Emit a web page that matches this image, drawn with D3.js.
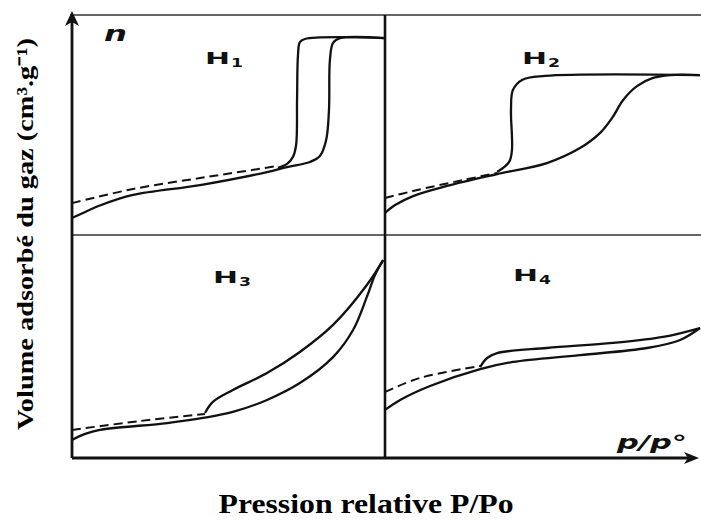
<!DOCTYPE html>
<html>
<head>
<meta charset="utf-8">
<script src="https://cdn.jsdelivr.net/npm/d3@7"></script>
<style>
  html, body { margin: 0; padding: 0; background: #fff; }
  svg { display: block; }
</style>
</head>
<body>
<svg id="chart" width="701" height="523"></svg>
<script>
// ---- Data: relative pressure P/P0 (x) and relative adsorbed amount n (y), per panel ----
const panelNames = ["H1", "H2", "H3", "H4"];

const h1Adsorption = [[0,0.077],[0.035,0.100],[0.089,0.134],[0.195,0.182],[0.409,0.227],[0.623,0.286],[0.687,0.309],[0.760,0.332],[0.792,0.359],[0.812,0.432],[0.821,0.568],[0.824,0.795],[0.834,0.873],[0.856,0.895],[1,0.895]];
const h1Desorption = [[1,0.895],[0.744,0.891],[0.728,0.877],[0.722,0.818],[0.719,0.614],[0.716,0.409],[0.706,0.355],[0.687,0.323],[0.658,0.305]];
const h1Dashed     = [[0,0.145],[0.195,0.209],[0.409,0.259],[0.514,0.282],[0.658,0.314]];

const h2Adsorption = [[0,0.100],[0.032,0.136],[0.089,0.177],[0.197,0.223],[0.356,0.277],[0.514,0.327],[0.619,0.395],[0.683,0.464],[0.721,0.532],[0.756,0.614],[0.800,0.677],[0.851,0.714],[0.905,0.727],[1,0.727]];
const h2Desorption = [[1,0.727],[0.508,0.723],[0.435,0.705],[0.406,0.659],[0.400,0.568],[0.403,0.386],[0.394,0.332],[0.356,0.286]];
const h2Dashed     = [[0,0.168],[0.089,0.200],[0.248,0.250],[0.356,0.282]];

const h3Adsorption = [[0,0.077],[0.042,0.104],[0.089,0.122],[0.304,0.153],[0.419,0.176],[0.514,0.203],[0.623,0.257],[0.728,0.333],[0.834,0.450],[0.898,0.572],[0.942,0.721],[0.968,0.820],[0.994,0.887]];
const h3Desorption = [[0.994,0.887],[0.942,0.775],[0.834,0.595],[0.728,0.473],[0.623,0.378],[0.514,0.302],[0.450,0.248],[0.425,0.198]];
const h3Dashed     = [[0,0.122],[0.217,0.162],[0.425,0.194]];

const h4Adsorption = [[0,0.212],[0.048,0.257],[0.143,0.320],[0.302,0.396],[0.406,0.428],[0.619,0.459],[0.832,0.491],[0.937,0.527],[1,0.581]];
const h4Desorption = [[1,0.581],[0.883,0.541],[0.724,0.514],[0.514,0.491],[0.356,0.468],[0.324,0.446],[0.302,0.405]];
const h4Dashed     = [[0,0.293],[0.111,0.356],[0.302,0.410]];

const panelSubscripts = ["1", "2", "3", "4"];
const yAxisLabel = "Volume adsorbé du gaz  (cm³.g⁻¹)";
const xAxisLabel = "Pression relative P/Po";

// ---- Layout ----
const svg = d3.select("#chart");
const axisX = 72, midX = 385, rightX = 700;
const topY = 15, midY = 235, botY = 457;

const panels = [
  { name: panelNames[0], sub: panelSubscripts[0], x0: axisX, x1: midX, y0: midY, y1: topY, ads: h1Adsorption, des: h1Desorption, dash: h1Dashed, lx: 205, ly: 64 },
  { name: panelNames[1], sub: panelSubscripts[1], x0: midX, x1: rightX, y0: midY, y1: topY, ads: h2Adsorption, des: h2Desorption, dash: h2Dashed, lx: 522, ly: 64 },
  { name: panelNames[2], sub: panelSubscripts[2], x0: axisX, x1: midX, y0: botY, y1: midY, ads: h3Adsorption, des: h3Desorption, dash: h3Dashed, lx: 213, ly: 283 },
  { name: panelNames[3], sub: panelSubscripts[3], x0: midX, x1: rightX, y0: botY, y1: midY, ads: h4Adsorption, des: h4Desorption, dash: h4Dashed, lx: 513, ly: 281 }
];

const ink = "#111";

// Frame lines
svg.append("line").attr("x1", axisX - 2).attr("x2", 701).attr("y1", topY).attr("y2", topY)
  .attr("stroke", "#333").attr("stroke-width", 1.6);
svg.append("line").attr("x1", axisX).attr("x2", 701).attr("y1", midY).attr("y2", midY)
  .attr("stroke", "#333").attr("stroke-width", 1.6);
svg.append("line").attr("x1", midX).attr("x2", midX).attr("y1", topY).attr("y2", botY + 1)
  .attr("stroke", ink).attr("stroke-width", 2.6);

// Y axis with arrow
svg.append("line").attr("x1", axisX).attr("x2", axisX).attr("y1", botY + 1).attr("y2", 20)
  .attr("stroke", ink).attr("stroke-width", 2.8);
svg.append("path").attr("d", `M${axisX},11 L${axisX - 7},26 L${axisX},22 L${axisX + 7},26 Z`).attr("fill", ink);

// X axis with arrow
svg.append("line").attr("x1", axisX).attr("x2", 690).attr("y1", botY + 1).attr("y2", botY + 1)
  .attr("stroke", ink).attr("stroke-width", 2.8);
svg.append("path").attr("d", `M699,${botY + 1} L684,${botY - 5} L688,${botY + 1} L684,${botY + 7} Z`).attr("fill", ink);

// Curves
panels.forEach(p => {
  const x = d3.scaleLinear().domain([0, 1]).range([p.x0, p.x1]);
  const y = d3.scaleLinear().domain([0, 1]).range([p.y0, p.y1]);
  const line = d3.line().x(d => x(d[0])).y(d => y(d[1])).curve(d3.curveCatmullRom.alpha(0.5));
  const g = svg.append("g");
  g.append("path").attr("d", line(p.ads)).attr("fill", "none").attr("stroke", ink).attr("stroke-width", 2.3);
  g.append("path").attr("d", line(p.des)).attr("fill", "none").attr("stroke", ink).attr("stroke-width", 2.3);
  g.append("path").attr("d", line(p.dash)).attr("fill", "none").attr("stroke", ink).attr("stroke-width", 2)
    .attr("stroke-dasharray", "9,5");

  // Panel label
  svg.append("text").attr("x", p.lx).attr("y", p.ly)
    .attr("font-family", "'DejaVu Sans', sans-serif").attr("font-weight", "bold")
    .attr("font-size", 16).attr("fill", ink)
    .attr("textLength", 25).attr("lengthAdjust", "spacingAndGlyphs").text("H");
  svg.append("text").attr("x", p.lx + 26).attr("y", p.ly + 3)
    .attr("font-family", "'DejaVu Sans', sans-serif").attr("font-weight", "bold")
    .attr("font-size", 12).attr("fill", ink)
    .attr("textLength", 12).attr("lengthAdjust", "spacingAndGlyphs").text(p.sub);
});

// "n" axis symbol
svg.append("text").attr("x", 104).attr("y", 41)
  .attr("font-family", "'DejaVu Sans', sans-serif").attr("font-weight", "bold").attr("font-style", "italic")
  .attr("font-size", 22).attr("fill", ink)
  .attr("textLength", 23).attr("lengthAdjust", "spacingAndGlyphs").text("n");

// "p/p°" symbol
svg.append("text").attr("x", 617).attr("y", 449)
  .attr("font-family", "'DejaVu Sans', sans-serif").attr("font-weight", "bold").attr("font-style", "italic")
  .attr("font-size", 19).attr("fill", ink)
  .attr("textLength", 70).attr("lengthAdjust", "spacingAndGlyphs").text("p/p°");

// Axis titles
svg.append("text")
  .attr("transform", "translate(33,234) rotate(-90)")
  .attr("text-anchor", "middle")
  .attr("font-family", "'Liberation Serif', 'Times New Roman', serif").attr("font-weight", "bold")
  .attr("font-size", 23).attr("fill", "#000")
  .attr("textLength", 392).attr("lengthAdjust", "spacingAndGlyphs")
  .text(yAxisLabel);

svg.append("text")
  .attr("x", 366).attr("y", 513)
  .attr("text-anchor", "middle")
  .attr("font-family", "'Liberation Serif', 'Times New Roman', serif").attr("font-weight", "bold")
  .attr("font-size", 27).attr("fill", "#000")
  .attr("textLength", 295).attr("lengthAdjust", "spacingAndGlyphs")
  .text(xAxisLabel);
</script>
</body>
</html>
